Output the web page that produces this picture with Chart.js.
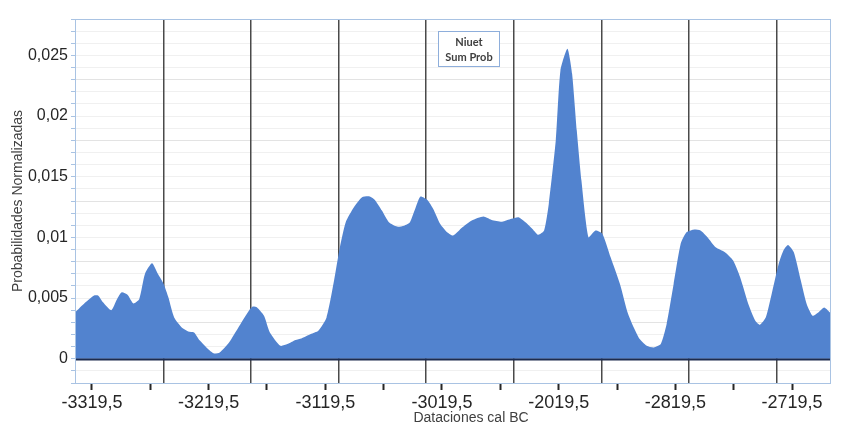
<!DOCTYPE html>
<html>
<head>
<meta charset="utf-8">
<script src="https://cdn.jsdelivr.net/npm/chart.js@4/dist/chart.umd.min.js"></script>
<style>
	html, body { margin: 0; padding: 0; background: #fff; }
	#graf_prob { display: block; }
</style>
</head>
<body>
<canvas id="graf_prob" width="844" height="427"></canvas>
<script>

// años cal BC y probabilidad sumada (Niuet)
const anios = [
	-3334, -3325, -3318, -3314, -3310, -3303, -3298, -3294, -3289, -3284,
	-3279, -3274, -3268, -3263, -3258, -3254, -3249, -3242, -3237, -3232,
	-3227, -3220, -3215, -3210, -3202, -3194, -3185, -3182, -3178, -3172,
	-3167, -3158, -3152, -3145, -3140, -3132, -3125.5, -3118.5, -3112, -3107,
	-3102, -3095, -3088, -3082, -3077, -3071, -3065, -3058, -3052, -3047,
	-3042, -3038, -3032, -3027, -3021, -3015, -3010, -3002, -2994, -2984,
	-2977, -2968, -2960, -2954, -2948, -2942, -2937, -2932, -2928, -2922,
	-2918, -2912, -2908, -2904, -2900, -2894, -2888, -2882, -2875, -2867,
	-2860, -2851, -2844, -2838, -2832, -2827, -2821, -2815, -2810, -2804,
	-2798, -2792, -2785, -2777, -2770, -2764, -2757, -2751, -2747, -2742,
	-2737, -2731, -2727, -2723, -2718, -2712, -2707, -2702, -2697, -2692,
	-2687
];
const probArray = [
	0.0038, 0.00465, 0.0052, 0.0052, 0.00465, 0.004, 0.0049, 0.00547, 0.00528, 0.00456,
	0.0049, 0.007, 0.00786, 0.007, 0.00616, 0.00506, 0.0034, 0.00253, 0.00225, 0.00217,
	0.0015, 0.0008, 0.00044, 0.00052, 0.00134, 0.00258, 0.00396, 0.00429, 0.00423, 0.00355,
	0.00217, 0.00107, 0.00121, 0.00154, 0.00167, 0.00204, 0.00231, 0.00338, 0.00644, 0.00918,
	0.01125, 0.01248, 0.01331, 0.01339, 0.01309, 0.01221, 0.01125, 0.01089, 0.01097, 0.01125,
	0.01248, 0.01337, 0.01309, 0.01235, 0.01111, 0.01042, 0.01015, 0.01083, 0.01139, 0.01172,
	0.01144, 0.0113, 0.01153, 0.01166, 0.01125, 0.0107, 0.01021, 0.01056, 0.01276, 0.018,
	0.02376, 0.02555, 0.02349, 0.01881, 0.01469, 0.01001, 0.01056, 0.01029, 0.00836, 0.00616,
	0.00369, 0.00176, 0.00107, 0.00093, 0.00121, 0.00286, 0.00616, 0.00946, 0.01042, 0.01064,
	0.01056, 0.01001, 0.00918, 0.00877, 0.00809, 0.00671, 0.00451, 0.00314, 0.00281, 0.00341,
	0.00534, 0.00781, 0.00891, 0.00938, 0.00877, 0.00644, 0.00451, 0.00355, 0.00382, 0.00423,
	0.00382
];

// etiquetas del eje X (una cada dos marcas)
const etiqX = ['-3319,5', '-3219,5', '-3119,5', '-3019,5', '-2019,5', '-2819,5', '-2719,5'];
// lineas verticales de division
const divAnios = [-3258, -3183, -3108, -3033, -2958, -2883, -2808, -2733];

const C_AZUL = '#5283cf';
const C_BORDE = '#a9c3e3';

const marco_prob = {
	id: 'marco_prob',
	afterDatasetsDraw(chart, args, options) {
		const { ctx, chartArea: { left, top, right, bottom }, scales: { y } } = chart;
		ctx.save();

		// linea del cero
		const y0 = Math.round(y.getPixelForValue(0)) + 0.5;
		ctx.strokeStyle = '#1c2b4f';
		ctx.lineWidth = 2;
		ctx.beginPath();
		ctx.moveTo(left, y0);
		ctx.lineTo(right, y0);
		ctx.stroke();

		// marco del area de trazado
		ctx.strokeStyle = C_BORDE;
		ctx.lineWidth = 1;
		ctx.strokeRect(left + 0.5, top + 0.5, right - left, bottom - top);

		// leyenda
		ctx.fillStyle = '#fff';
		ctx.fillRect(438, 31, 62, 36);
		ctx.strokeStyle = '#8eaedb';
		ctx.strokeRect(438.5, 31.5, 61, 35);
		ctx.fillStyle = '#404040';
		ctx.font = 'bold 11px Lato';
		ctx.textAlign = 'center';
		ctx.textBaseline = 'middle';
		ctx.fillText(options.serie[0], 469, 42);
		ctx.fillText(options.serie[1], 469, 57);

		// titulo eje X
		ctx.font = '14px "Liberation Sans"';
		ctx.fillStyle = '#404040';
		ctx.fillText(options.tituloX, 471, 418);

		ctx.restore();
	}
};

var graf_prob = null;

function GrafProb() {
	if (graf_prob != null) { graf_prob.destroy(); }

	var datos = anios.map(function (a, i) { return { x: a, y: probArray[i] }; });

	var config = {
		type: 'line',
		data: {
			datasets: [{
				label: 'Niuet Sum Prob',
				data: datos,
				fill: 'origin',
				backgroundColor: C_AZUL,
				borderColor: C_AZUL,
				borderWidth: 0,
				pointRadius: 0,
				tension: 0.2,
			}]
		},
		options: {
			responsive: false,
			animation: false,
			layout: {
				padding: { left: 0, right: 14, top: 19, bottom: 0 }
			},
			plugins: {
				legend: { display: false },
				tooltip: { enabled: false },
				marco_prob: {
					serie: ['Niuet', 'Sum Prob'],
					tituloX: 'Dataciones cal BC',
				}
			},
			scales: {
				x: {
					type: 'linear',
					position: 'bottom',
					min: -3334,
					max: -2687,
					afterBuildTicks: function (scale) {
						var t = [];
						for (var k = 0; k < etiqX.length * 2 - 1; k++) {
							t.push({ value: -3319.5 + 50 * k });
						}
						scale.ticks = t;
					},
					afterFit: function (scale) { scale.height = 44; },
					ticks: {
						autoSkip: false,
						maxRotation: 0,
						padding: 2,
						color: '#262626',
						font: { family: 'Liberation Sans', size: 18 },
						callback: function (val, index) {
							return index % 2 === 0 ? etiqX[index / 2] : '';
						}
					},
					grid: {
						drawOnChartArea: false,
						drawTicks: true,
						tickLength: 7,
						tickWidth: 2,
						tickColor: '#262626',
					},
					border: { color: C_BORDE },
				},
				x2: {
					type: 'linear',
					position: 'top',
					min: -3334,
					max: -2687,
					afterBuildTicks: function (scale) {
						scale.ticks = divAnios.map(function (a) { return { value: a }; });
					},
					ticks: { display: false },
					grid: {
						z: 0,	// por encima de la rejilla horizontal
						drawTicks: false,
						color: '#4a4a4a',
						lineWidth: 1.5,
					},
					border: { display: false },
				},
				y: {
					min: -0.002,
					max: 0.028,
					afterBuildTicks: function (scale) {
						var t = [];
						for (var k = -2; k <= 28; k++) { t.push({ value: k / 1000 }); }
						scale.ticks = t;
					},
					afterFit: function (scale) { scale.width = 75; },
					ticks: {
						autoSkip: false,
						padding: 3,
						color: '#262626',
						font: { family: 'Liberation Sans', size: 16 },
						callback: function (val) {
							var k = Math.round(val * 1000);
							if (k < 0 || k % 5 !== 0) { return ''; }
							return (k / 1000).toString().replace('.', ',');
						}
					},
					grid: {
						tickLength: 4,
						tickColor: C_BORDE,
						color: function (c) {
							var k = Math.round(c.tick.value * 1000);
							if (k === 28 || k === -2) { return C_BORDE; }
							if ((k + 2) % 5 === 0) { return '#e3e3e3'; }
							return '#f0f0f0';
						},
					},
					border: { color: C_BORDE },
					title: {
						display: true,
						text: 'Probabilidades Normalizadas',
						color: '#404040',
						font: { family: 'Liberation Sans', size: 14 },
						padding: { top: 10, bottom: 0 },
					}
				}
			}
		},
		plugins: [marco_prob]
	};

	var ctx = document.getElementById('graf_prob').getContext('2d');
	graf_prob = new Chart(ctx, config);
}

GrafProb();
</script>
</body>
</html>
